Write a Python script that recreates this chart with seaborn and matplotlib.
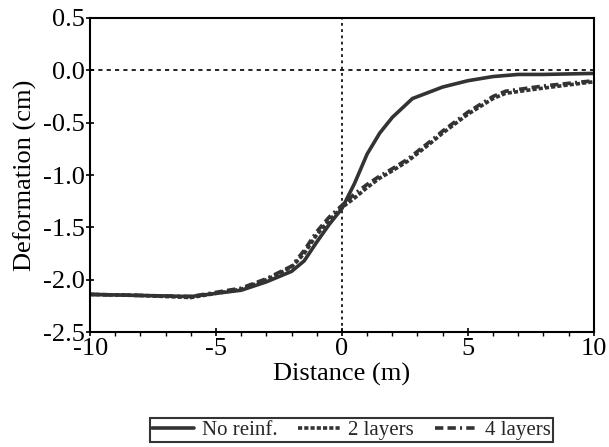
import matplotlib
matplotlib.use("Agg")
import matplotlib.pyplot as plt
from matplotlib.ticker import MultipleLocator
import pandas as pd
import seaborn as sns

x_none = [-10, -8, -6, -5, -4, -3, -2, -1.5, -1, -0.5, 0, 0.5, 1, 1.5, 2, 2.8, 4, 5, 6, 7, 8, 10]
y_none = [-2.14, -2.15, -2.16, -2.13, -2.10, -2.02, -1.92, -1.82, -1.64, -1.47, -1.32,
          -1.08, -0.80, -0.60, -0.45, -0.27, -0.16, -0.10, -0.06, -0.04, -0.04, -0.03]

x_layers = [-10, -8, -6, -5, -4, -3, -2, -1.5, -1, -0.5, 0, 0.5, 1, 1.5, 2, 2.6, 3.5, 4, 5, 6, 6.5, 8, 10]
y_2layers = [-2.14, -2.15, -2.17, -2.13, -2.09, -2.00, -1.88, -1.75, -1.57, -1.43, -1.31,
             -1.22, -1.12, -1.03, -0.96, -0.87, -0.70, -0.60, -0.42, -0.27, -0.22, -0.17, -0.11]
y_4layers = [-2.14, -2.15, -2.16, -2.12, -2.08, -1.99, -1.87, -1.72, -1.54, -1.40, -1.29,
             -1.18, -1.09, -1.01, -0.94, -0.85, -0.68, -0.58, -0.40, -0.25, -0.20, -0.15, -0.10]

series_names = ["No reinf.", "2 layers", "4 layers"]

df = pd.concat([
    pd.DataFrame({"Distance": x_none, "Deformation": y_none, "Case": series_names[0]}),
    pd.DataFrame({"Distance": x_layers, "Deformation": y_2layers, "Case": series_names[1]}),
    pd.DataFrame({"Distance": x_layers, "Deformation": y_4layers, "Case": series_names[2]}),
], ignore_index=True)

sns.set_theme(style="ticks")
plt.rcParams['font.family'] = ['Liberation Serif', 'DejaVu Serif']
plt.rcParams['axes.unicode_minus'] = False
plt.rcParams['lines.scale_dashes'] = False

fig = plt.figure(figsize=(6.09, 4.47), dpi=100)
ax = fig.add_axes([0.148, 0.257, 0.827, 0.703])

ax.axhline(0, color="black", lw=1.2, ls=(0, (3, 3)), zorder=1)
ax.axvline(0, color="black", lw=1.2, ls=(0, (2, 2.5)), zorder=1)

sns.lineplot(data=df, x="Distance", y="Deformation", style="Case", ax=ax,
             color="#333333", linewidth=2.6, sort=False,
             dashes={"No reinf.": "", "2 layers": (3, 1.5), "4 layers": (6, 3, 6, 3, 1.5, 3)},
             legend=False)

ax.set_xlim(-10, 10)
ax.set_ylim(-2.5, 0.5)
ax.xaxis.set_major_locator(MultipleLocator(5))
ax.xaxis.set_minor_locator(MultipleLocator(1))
ax.set_yticks([0.5, 0.0, -0.5, -1.0, -1.5, -2.0, -2.5])
ax.set_yticklabels(["0.5", "0.0", "-0.5", "-1.0", "-1.5", "-2.0", "-2.5"])
ax.tick_params(axis="both", which="major", direction="inout", length=6, width=1.2,
               labelsize=19, pad=1, color="black", labelcolor="black")
ax.tick_params(axis="x", which="minor", direction="out", length=3, width=1.0, color="black")
for s in ax.spines.values():
    s.set_color("black")
    s.set_linewidth(1.5)

ax.set_xlabel("Distance (m)", fontsize=19, labelpad=2, color="black")
ax.set_ylabel("Deformation (cm)", fontsize=19, labelpad=4, color="black")

handles = [ax.lines[i] for i in range(2, len(ax.lines))]
leg = fig.legend(handles, series_names, loc="center", bbox_to_anchor=(0.577, 0.038),
                 ncol=3, frameon=True, fancybox=False, fontsize=15, handlelength=2.0,
                 handletextpad=0.4, columnspacing=1.0, borderpad=0.1, borderaxespad=0)
leg.get_frame().set_edgecolor("black")
leg.get_frame().set_linewidth(1.5)

fig.savefig("out.png", dpi=100, facecolor="white")
